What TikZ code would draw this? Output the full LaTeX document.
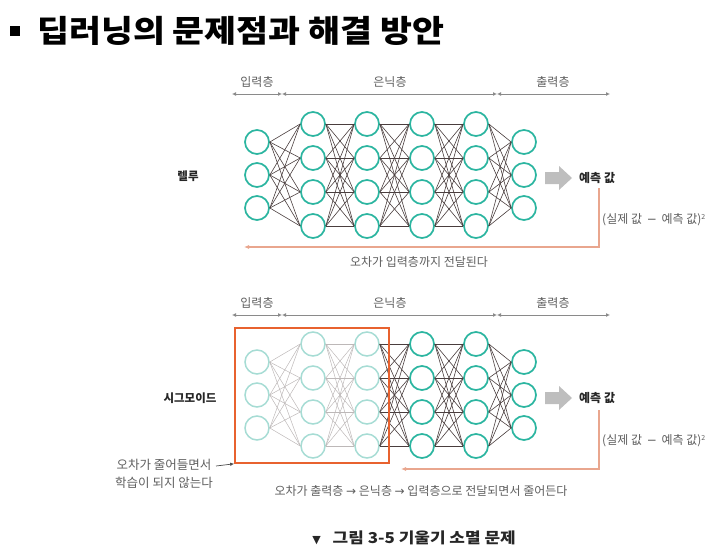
\documentclass[tikz,border=0pt]{standalone}
\usepackage{fontspec}
\setmainfont{Noto Sans CJK KR}
\newfontfamily\symfont{DejaVu Sans}
\usetikzlibrary{arrows.meta}
\definecolor{nnteal}{HTML}{2BB5A0}
\definecolor{nnpale}{HTML}{A6DCD4}
\definecolor{linkdark}{HTML}{4A3E3E}
\definecolor{linkpale}{HTML}{BDB8B8}
\definecolor{boxorange}{HTML}{E8622F}
\definecolor{fborange}{HTML}{E9A68E}
\definecolor{tiporange}{HTML}{E2663A}
\definecolor{arrowgray}{HTML}{BEBEBE}
\definecolor{txtgray}{HTML}{5E5E5E}
\definecolor{axisgray}{HTML}{8A8A8A}
\tikzset{
  neuron/.style={circle, draw=nnteal, line width=1.7pt, fill=white, minimum size=24pt, inner sep=0pt},
  paleneuron/.style={circle, draw=nnpale, line width=1.5pt, fill=white, minimum size=24pt, inner sep=0pt},
  link/.style={draw=linkdark, line width=0.6pt},
  palelink/.style={draw=linkpale, line width=0.5pt},
  axisline/.style={draw=axisgray, line width=0.9pt, {Latex[length=4pt,width=4pt]}-{Latex[length=4pt,width=4pt]}},
  axislabel/.style={font=\fontsize{12pt}{14pt}\selectfont, text=txtgray, inner sep=0pt},
  sidelabel/.style={font=\fontsize{11.5pt}{13pt}\selectfont\bfseries, text=black!85, inner sep=0pt},
  predlabel/.style={font=\fontsize{12pt}{14pt}\selectfont\bfseries, text=black!85, inner sep=1pt},
  graytext/.style={font=\fontsize{12pt}{14pt}\selectfont, text=txtgray, inner sep=0pt},
  fbline/.style={draw=fborange, line width=1.1pt, -{Latex[length=5pt,width=4pt,fill=tiporange]}},
  bigarrow/.style={fill=arrowgray, draw=none},
}
\begin{document}
\begin{tikzpicture}[x=1pt,y=-1pt]
\useasboundingbox (0,0) rectangle (718,554);
% title
\fill (10,26) rectangle (20,36);
\node[anchor=west, inner sep=0pt, font=\fontsize{31pt}{34pt}\selectfont\bfseries] (title) at (37,31) {\scalebox{1.12}[1]{딥러닝의 문제점과 해결 방안}};

% ---------- layer axes ----------
\foreach \net/\ya in {t/94, b/315}{
  \coordinate (\net a0) at (232,\ya);
  \coordinate (\net a1) at (282,\ya);
  \coordinate (\net a2) at (497,\ya);
  \coordinate (\net a3) at (610,\ya);
  \draw[axisline] (\net a0) -- (\net a1);
  \draw[axisline] (\net a1) -- (\net a2);
  \draw[axisline] (\net a2) -- (\net a3);
}
\node[axislabel] (tl1) at (257,82) {입력층};
\node[axislabel] (tl2) at (390,82) {은닉층};
\node[axislabel] (tl3) at (553,82) {출력층};
\node[axislabel] (bl1) at (257,303) {입력층};
\node[axislabel] (bl2) at (390,303) {은닉층};
\node[axislabel] (bl3) at (553,303) {출력층};

% ---------- neurons ----------
% top network
\foreach \L/\x/\n in {1/257/3, 2/313/4, 3/367/4, 4/422/4, 5/476/4, 6/524/3}{
  \foreach \i in {1,...,\n}{
    \pgfmathsetmacro\yy{175 + (\i-(\n+1)/2)*(\n==4 ? 34 : 33)}
    \node[neuron] (t-\L-\i) at (\x,\yy) {};
  }
}
% bottom network
\foreach \L/\x/\n in {1/257/3, 2/313/4, 3/367/4}{
  \foreach \i in {1,...,\n}{
    \pgfmathsetmacro\yy{395 + (\i-(\n+1)/2)*(\n==4 ? 34 : 33)}
    \node[paleneuron] (b-\L-\i) at (\x,\yy) {};
  }
}
\foreach \L/\x/\n in {4/422/4, 5/476/4, 6/524/3}{
  \foreach \i in {1,...,\n}{
    \pgfmathsetmacro\yy{395 + (\i-(\n+1)/2)*(\n==4 ? 34 : 33)}
    \node[neuron] (b-\L-\i) at (\x,\yy) {};
  }
}

% ---------- connections ----------
\foreach \L/\M/\n/\m in {1/2/3/4, 2/3/4/4, 3/4/4/4, 4/5/4/4, 5/6/4/3}{
  \foreach \i in {1,...,\n}{
    \foreach \j in {1,...,\m}{
      \draw[link] (t-\L-\i.east) -- (t-\M-\j.west);
    }
  }
}
\foreach \L/\M/\n/\m in {1/2/3/4, 2/3/4/4}{
  \foreach \i in {1,...,\n}{
    \foreach \j in {1,...,\m}{
      \draw[palelink] (b-\L-\i.east) -- (b-\M-\j.west);
    }
  }
}
\foreach \L/\M/\n/\m in {3/4/4/4, 4/5/4/4, 5/6/4/3}{
  \foreach \i in {1,...,\n}{
    \foreach \j in {1,...,\m}{
      \draw[link] (b-\L-\i.east) -- (b-\M-\j.west);
    }
  }
}

% ---------- side labels ----------
\node[sidelabel] (relu) at (188,176) {렐루};
\node[sidelabel] (sig) at (190,398) {시그모이드};

% ---------- output arrows ----------
\fill[bigarrow] (545,172) -- (559,172) -- (559,166) -- (572,178) -- (559,190) -- (559,184) -- (545,184) -- cycle;
\fill[bigarrow] (545,392) -- (559,392) -- (559,386) -- (572,398) -- (559,410) -- (559,404) -- (545,404) -- cycle;
\node[predlabel, anchor=west] (predT) at (578,178) {예측 값};
\node[predlabel, anchor=west] (predB) at (578,398) {예측 값};

% ---------- loss text ----------
\node[graytext, anchor=west] (lossT) at (602,220) {(실제 값 \,{\symfont −}\, 예측 값)\textsuperscript{\fontsize{7pt}{8pt}\selectfont 2}};
\node[graytext, anchor=west] (lossB) at (602,441) {(실제 값 \,{\symfont −}\, 예측 값)\textsuperscript{\fontsize{7pt}{8pt}\selectfont 2}};

% ---------- feedback ----------
\coordinate (fbT) at (244,247);
\coordinate (fbB) at (401,469);
\draw[fbline] (599,188) |- (fbT);
\draw[fbline] (599,410) |- (fbB);
\node[graytext] (msgT) at (419,262) {오차가 입력층까지 전달된다};
\node[graytext] (msgB) at (421,491) {오차가 출력층 {\symfont →} 은닉층 {\symfont →} 입력층으로 전달되면서 줄어든다};

% ---------- orange box ----------
\node[draw=boxorange, line width=1.6pt, minimum width=154pt, minimum height=135pt, inner sep=0pt] (fadebox) at (312,395.5) {};
\node[graytext, align=center, font=\fontsize{12.5pt}{18pt}\selectfont] (note) at (164,474) {오차가 줄어들면서\\학습이 되지 않는다};
\draw[draw=black!70, line width=0.7pt, -{Latex[length=4pt,width=3.5pt]}] (216,466) -- (fadebox.south west);

% ---------- caption ----------
\node[inner sep=0pt, font=\fontsize{15pt}{17pt}\selectfont\bfseries, text=black!85] (caption) at (414,538) {{\symfont\fontsize{11pt}{12pt}\selectfont ▼}\hspace{12pt}\scalebox{1.13}[1]{그림 3-5 기울기 소멸 문제}};
\end{tikzpicture}
\end{document}
